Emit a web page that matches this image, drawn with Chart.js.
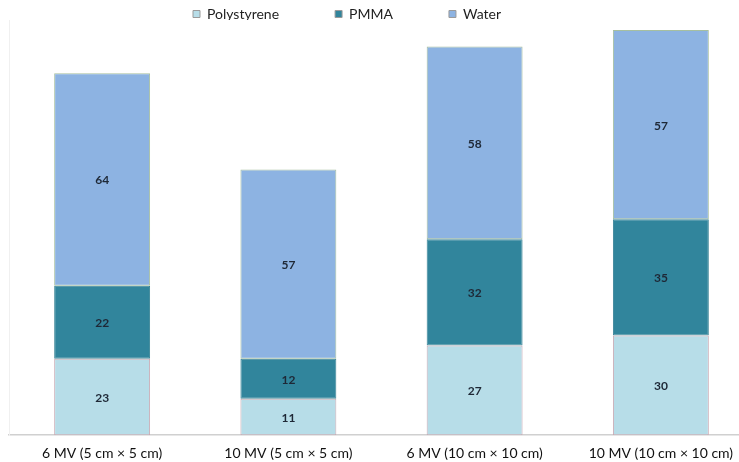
<!DOCTYPE html>
<html>
<head>
<meta charset="utf-8">
<script src="https://cdn.jsdelivr.net/npm/chart.js@4"></script>
<style>
  html, body { margin: 0; padding: 0; background: #ffffff; overflow: hidden; }
  #wrap { width: 739px; height: 462px; overflow: hidden; }
</style>
</head>
<body>
<div id="wrap"><canvas id="c" width="755" height="473"></canvas></div>
<script>
// Beam / field-size categories
const categories = [
  '6 MV (5 cm \u00d7 5 cm)',
  '10 MV (5 cm \u00d7 5 cm)',
  '6 MV (10 cm \u00d7 10 cm)',
  '10 MV (10 cm \u00d7 10 cm)'
];

// Stacked values per phantom material
const polystyrene = [23, 11, 27, 30];
const pmma = [22, 12, 32, 35];
const water = [64, 57, 58, 57];

const seriesNames = ['Polystyrene', 'PMMA', 'Water'];

const FONT = 'Lato, "Open Sans", "DejaVu Sans", sans-serif';

// Writes each segment's value in the middle of its bar segment
const segmentValues = {
  id: 'segmentValues',
  afterDatasetsDraw(chart) {
    const ctx = chart.ctx;
    ctx.save();
    ctx.font = 'bold 12px ' + FONT;
    ctx.fillStyle = '#1e2836';
    ctx.textAlign = 'center';
    ctx.textBaseline = 'middle';
    chart.data.datasets.forEach((ds, i) => {
      const meta = chart.getDatasetMeta(i);
      meta.data.forEach((bar, j) => {
        const p = bar.getProps(['x', 'y', 'base'], true);
        ctx.fillText(String(ds.data[j]), p.x, (p.y + p.base) / 2 + 1);
      });
    });
    ctx.restore();
  }
};

// Places the legend row in the upper band, left of centre
const legendPlacement = {
  id: 'legendPlacement',
  afterLayout(chart) {
    const lg = chart.legend;
    if (!lg) return;
    const pad = lg.options.labels.padding;
    lg.left = 193 - pad;
    lg.top = 7 - pad;
  }
};

new Chart(document.getElementById('c'), {
  type: 'bar',
  data: {
    labels: categories,
    datasets: [
      {
        label: seriesNames[0],
        data: polystyrene,
        backgroundColor: '#b7dde8',
        borderColor: '#c9aab4',
        borderWidth: 1,
        borderSkipped: false
      },
      {
        label: seriesNames[1],
        data: pmma,
        backgroundColor: '#31859c',
        borderColor: '#3a8496',
        borderWidth: 1,
        borderSkipped: false
      },
      {
        label: seriesNames[2],
        data: water,
        backgroundColor: '#8db3e2',
        borderColor: '#a6bfa0',
        borderWidth: 1,
        borderSkipped: false
      }
    ]
  },
  options: {
    responsive: false,
    animation: false,
    devicePixelRatio: 1,
    layout: { padding: { left: 9, right: 1, top: 0, bottom: 1 } },
    datasets: {
      bar: { categoryPercentage: 1.0, barPercentage: 0.515 }
    },
    scales: {
      x: {
        stacked: true,
        grid: { display: false, drawTicks: false },
        border: { display: true, color: '#d0d0d0', width: 1.5 },
        ticks: {
          padding: 10,
          maxRotation: 0,
          autoSkip: false,
          color: '#111111',
          font: { family: FONT, size: 14 }
        }
      },
      y: {
        stacked: true,
        min: 0,
        max: 125,
        grid: { display: false, drawTicks: false },
        border: { display: true, color: '#f0f0f0', width: 1 },
        ticks: { display: false }
      }
    },
    plugins: {
      tooltip: { enabled: false },
      legend: {
        position: 'top',
        align: 'start',
        maxHeight: 20,
        labels: {
          boxWidth: 7,
          boxHeight: 7,
          padding: 56,
          color: '#1f1f1f',
          font: { family: FONT, size: 14 },
          generateLabels(chart) {
            const items = Chart.defaults.plugins.legend.labels.generateLabels(chart);
            items.forEach(it => { it.strokeStyle = '#9a9a9a'; it.lineWidth = 1; });
            return items;
          }
        }
      }
    }
  },
  plugins: [segmentValues, legendPlacement]
});
</script>
</body>
</html>
